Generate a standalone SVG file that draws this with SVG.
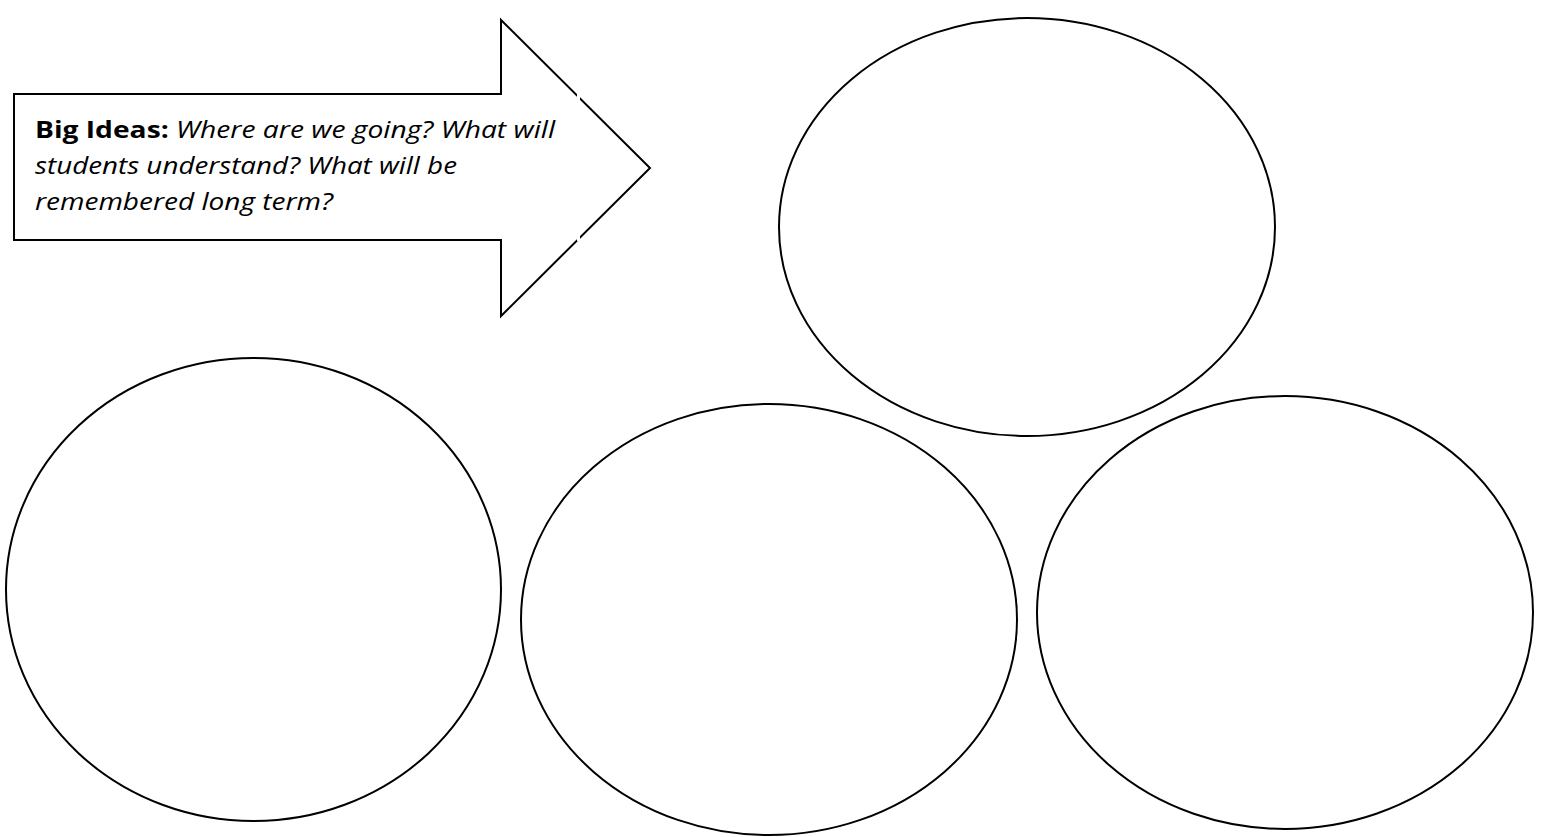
<svg xmlns="http://www.w3.org/2000/svg" width="1546" height="837" viewBox="0 0 1546 837">
<style>
.shape{fill:#fff;stroke:#000;stroke-width:2}
.t{font-family:"Open Sans","Liberation Sans",sans-serif;font-size:23px;fill:#000}
.b{font-weight:bold}
.i{font-style:italic}
.gap{fill:#fff}
</style>
<rect width="1546" height="837" fill="#fff"/>
<g id="big-ideas-arrow">
<polygon class="shape" points="14,94 501,94 501,20 650,168 501,316 501,240 14,240"/>
<rect class="gap" x="577" y="94" width="3" height="6"/>
<rect class="gap" x="577" y="235" width="3" height="6"/>
<text class="t" x="35" y="138" textLength="520" lengthAdjust="spacingAndGlyphs"><tspan class="b">Big Ideas:</tspan><tspan class="i"> Where are we going? What will</tspan></text>
<text class="t i" x="35" y="174" textLength="422" lengthAdjust="spacingAndGlyphs">students understand? What will be</text>
<text class="t i" x="35" y="210" textLength="298" lengthAdjust="spacingAndGlyphs">remembered long term?</text>
</g>
<g id="oval-top-right"><ellipse class="shape" cx="1027" cy="227" rx="248" ry="209"/></g>
<g id="oval-bottom-left"><ellipse class="shape" cx="253.5" cy="589.5" rx="247.5" ry="231.5"/></g>
<g id="oval-bottom-middle"><ellipse class="shape" cx="769" cy="619.5" rx="248" ry="215.5"/></g>
<g id="oval-bottom-right"><ellipse class="shape" cx="1285" cy="612.5" rx="248" ry="216.5"/></g>
<g id="connectors"></g>
</svg>
